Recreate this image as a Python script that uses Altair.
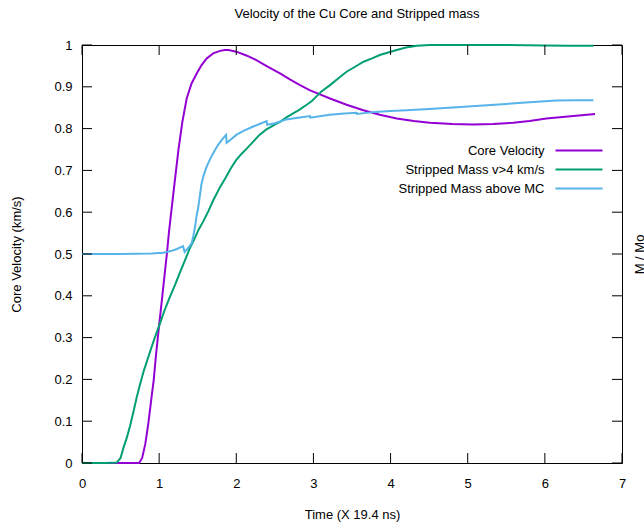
import altair as alt
import pandas as pd

TITLE = "Velocity of the Cu Core and Stripped mass"
X_TITLE = "Time (X 19.4 ns)"
Y_TITLE = "Core Velocity (km/s)"
Y2_TITLE = "M / Mo"

SERIES = ["Core Velocity", "Stripped Mass v>4 km/s", "Stripped Mass above MC"]
COLORS = ["#9400D3", "#009E73", "#56B4E9"]

X_TICKS = [0, 1, 2, 3, 4, 5, 6, 7]
Y_TICKS = [0, 0.1, 0.2, 0.3, 0.4, 0.5, 0.6, 0.7, 0.8, 0.9, 1]

# Core velocity
core_t = [0, 0.74, 0.78, 0.82, 0.86, 0.90, 0.93, 0.96, 1.00, 1.05, 1.10, 1.13,
          1.20, 1.25, 1.30, 1.357, 1.42, 1.487, 1.55, 1.616, 1.70, 1.789, 1.85,
          1.90, 2.00, 2.13, 2.26, 2.40, 2.567, 2.70, 2.826, 2.95, 3.085, 3.215,
          3.43, 3.647, 3.86, 4.08, 4.30, 4.51, 4.80, 5.07, 5.33, 5.59, 5.80,
          6.02, 6.30, 6.65]
core_v = [0, 0.0, 0.012, 0.045, 0.095, 0.155, 0.199, 0.26, 0.33, 0.415, 0.50, 0.557,
          0.67, 0.749, 0.815, 0.872, 0.908, 0.932, 0.952, 0.968, 0.980, 0.986, 0.988,
          0.988, 0.984, 0.975, 0.964, 0.949, 0.932, 0.917, 0.904, 0.892, 0.882, 0.872,
          0.857, 0.844, 0.833, 0.824, 0.818, 0.814, 0.811, 0.810, 0.811, 0.814, 0.818,
          0.824, 0.829, 0.835]

# Stripped mass moving faster than 4 km/s
fast_t = [0, 0.30, 0.45, 0.50, 0.535, 0.58, 0.622, 0.67, 0.709, 0.752, 0.80, 0.85,
          0.882, 0.94, 1.003, 1.07, 1.141, 1.21, 1.27, 1.34, 1.40, 1.46, 1.508,
          1.572, 1.64, 1.70, 1.789, 1.86, 1.93, 2.00, 2.07, 2.135, 2.22, 2.30,
          2.39, 2.437, 2.52, 2.567, 2.65, 2.73, 2.80, 2.913, 2.98, 3.04, 3.10,
          3.215, 3.32, 3.43, 3.54, 3.65, 3.76, 3.86, 3.97, 4.08, 4.20, 4.34,
          4.51, 5.00, 5.50, 6.00, 6.30, 6.63]
fast_v = [0, 0.0, 0.001, 0.012, 0.035, 0.060, 0.088, 0.125, 0.157, 0.188, 0.220, 0.248,
          0.266, 0.298, 0.330, 0.365, 0.398, 0.428, 0.456, 0.487, 0.515, 0.537, 0.557,
          0.578, 0.603, 0.628, 0.660, 0.682, 0.705, 0.725, 0.740, 0.752, 0.769, 0.785,
          0.798, 0.803, 0.812, 0.816, 0.827, 0.836, 0.843, 0.857, 0.866, 0.877, 0.888,
          0.904, 0.920, 0.936, 0.948, 0.960, 0.968, 0.976, 0.982, 0.988, 0.994, 0.998,
          1.000, 1.000, 1.000, 0.999, 0.998, 0.998]

# Stripped mass above the main core
above_t = [0, 0.50, 0.90, 1.054, 1.15, 1.23, 1.31, 1.33, 1.38, 1.422, 1.445, 1.465,
           1.485, 1.508, 1.53, 1.55, 1.58, 1.616, 1.66, 1.70, 1.76, 1.83, 1.867,
           1.875, 1.93, 2.00, 2.10, 2.22, 2.30, 2.394, 2.40, 2.50, 2.567, 2.65,
           2.80, 2.956, 2.96, 3.10, 3.215, 3.40, 3.56, 3.565, 3.80, 4.00, 4.21,
           4.50, 4.857, 5.20, 5.50, 5.80, 6.15, 6.40, 6.63]
above_v = [0.5, 0.5, 0.501, 0.503, 0.507, 0.512, 0.519, 0.505, 0.515, 0.526, 0.545, 0.565,
           0.590, 0.613, 0.642, 0.669, 0.690, 0.709, 0.727, 0.741, 0.760, 0.777, 0.785,
           0.766, 0.774, 0.785, 0.795, 0.805, 0.811, 0.818, 0.809, 0.813, 0.817, 0.822,
           0.826, 0.830, 0.826, 0.830, 0.833, 0.836, 0.838, 0.835, 0.840, 0.842, 0.844,
           0.847, 0.851, 0.855, 0.859, 0.863, 0.867, 0.868, 0.868]

frames = []
for name, ts, vs in zip(SERIES, [core_t, fast_t, above_t], [core_v, fast_v, above_v]):
    frames.append(pd.DataFrame({"t": ts, "v": vs, "series": name, "k": range(len(ts))}))
lines_df = pd.concat(frames, ignore_index=True)

xt_df = pd.DataFrame({"x": X_TICKS})
yt_df = pd.DataFrame({"y": Y_TICKS})

W, H = 540, 418
TICK = 10
FONT = "Liberation Sans"

x_scale = alt.Scale(domain=[0, 7], nice=False, zero=False)
y_scale = alt.Scale(domain=[0, 1], nice=False, zero=False)

lines = alt.Chart(lines_df).mark_line(strokeWidth=2).encode(
    x=alt.X("t:Q", scale=x_scale,
            axis=alt.Axis(values=X_TICKS, format="d", title=X_TITLE, ticks=False,
                          domain=False, grid=False, labelFlush=False,
                          labelPadding=14, titlePadding=18)),
    y=alt.Y("v:Q", scale=y_scale,
            axis=alt.Axis(values=Y_TICKS, format="~g", title=Y_TITLE, ticks=False,
                          domain=False, grid=False, labelFlush=False,
                          labelPadding=10, titlePadding=30)),
    color=alt.Color("series:N", scale=alt.Scale(domain=SERIES, range=COLORS),
                    legend=alt.Legend(title=None, orient="none", legendX=490.5, legendY=99,
                                      symbolType="M-4.7,0H4.7", symbolSize=100,
                                      symbolStrokeWidth=2, labelAlign="right",
                                      labelOffset={"expr": "-41"}, labelFontSize=13,
                                      labelFont=FONT, labelColor="black", labelLimit=400,
                                      rowPadding=5, padding=0)),
    order="k:Q",
)

bottom_ticks = alt.Chart(xt_df).mark_rule(color="black", strokeWidth=1).encode(
    x=alt.X("x:Q", scale=x_scale, axis=None),
    y=alt.value(H), y2=alt.value(H - TICK),
)
top_ticks = alt.Chart(xt_df).mark_rule(color="black", strokeWidth=1).encode(
    x=alt.X("x:Q", scale=x_scale, axis=None),
    y=alt.value(0), y2=alt.value(TICK),
)
left_ticks = alt.Chart(yt_df).mark_rule(color="black", strokeWidth=1).encode(
    y=alt.Y("y:Q", scale=y_scale, axis=None),
    x=alt.value(0), x2=alt.value(TICK),
)
right_ticks = alt.Chart(yt_df).mark_rule(color="black", strokeWidth=1).encode(
    y=alt.Y("y:Q", scale=y_scale,
            axis=alt.Axis(orient="right", labels=False, ticks=False, domain=False,
                          grid=False, title=Y2_TITLE, titleAngle=270,
                          titlePadding=24)),
    x=alt.value(W - TICK), x2=alt.value(W),
)

chart = alt.layer(lines, bottom_ticks, top_ticks, left_ticks, right_ticks).resolve_axis(
    x="independent", y="independent"
).properties(
    width=W, height=H,
    background="white",
    title=alt.TitleParams(TITLE, fontSize=13, font=FONT, fontWeight="normal",
                          color="black", anchor="middle", offset=18, dx=5),
    autosize=alt.AutoSizeParams(type="none"),
    padding={"left": 82, "top": 45, "right": 22, "bottom": 60},
).configure_view(
    stroke="black", strokeWidth=1
).configure_axis(
    labelFont=FONT, labelFontSize=13, labelColor="black",
    titleFont=FONT, titleFontSize=13, titleColor="black", titleFontWeight="normal",
)

chart.save("out.html", embed_options={"renderer": "svg", "actions": False})
